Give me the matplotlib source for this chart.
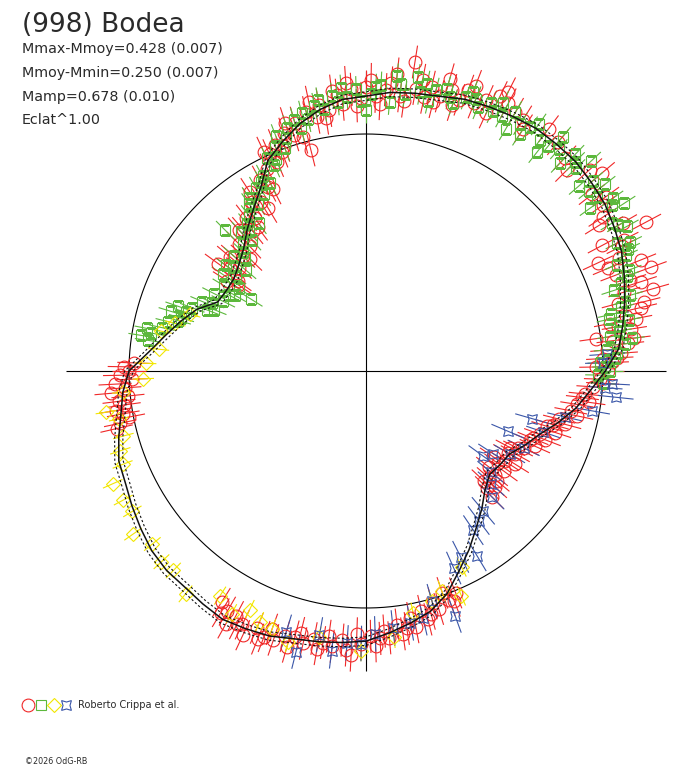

# Polar lightcurve of (998) Bodea: relative brightness vs rotational phase.
import numpy as np
import matplotlib.pyplot as plt
from matplotlib.lines import Line2D

# fitted model, phase in degrees, brightness relative to the mean (circle = 1)
model_phase = list(range(0, 360, 5))
model_r = [1.01, 1.07, 1.10, 1.13, 1.16, 1.19, 1.21, 1.23, 1.24, 1.25,
           1.25, 1.25, 1.24, 1.23, 1.22, 1.20, 1.19, 1.18, 1.16, 1.15,
           1.12, 1.08, 1.03, 0.98, 0.89, 0.83, 0.78, 0.73, 0.70, 0.68,
           0.68, 0.69, 0.76, 0.81, 0.86, 0.92, 1.00, 1.03, 1.05, 1.08,
           1.11, 1.12, 1.14, 1.16, 1.18, 1.19, 1.19, 1.20, 1.21, 1.20,
           1.19, 1.17, 1.16, 1.15, 1.14, 1.11, 1.08, 1.05, 1.00, 0.93,
           0.87, 0.81, 0.76, 0.71, 0.68, 0.69, 0.70, 0.74, 0.78, 0.84,
           0.90, 0.95]
model_err = 0.018

red_phase = [147, 145, 144, 143, 141, 139, 137, 135, 133, 131, 129, 128, 126, 124,
             122, 121, 119, 118, 116, 114, 113, 112, 110, 109, 107, 106, 104, 103,
             101, 100, 98, 96, 95, 93, 91, 90, 88, 86, 85, 83, 81, 80, 78, 77,
             75, 73, 71, 70, 68, 66, 63, 62, 60, 57, 53, 47, 42, 38, 35, 32,
             30, 28, 28, 26, 25, 24, 22, 21, 20, 19, 17, 16, 15, 14, 13, 12,
             11, 10, 9, 8, 7, 6, 5, 4, 3, 2, 1, 0,
             146, 140, 136, 132, 127, 123, 117, 115, 111, 108, 105, 102, 99, 97,
             94, 92, 89, 87, 84, 82, 79, 76, 74, 72, 69, 65, 64, 58, 50, 45,
             40, 36, 33, 27, 23, 18, 11, 7, 3,
             358, 356, 354, 352, 351, 349, 348, 346, 345, 343, 342, 340, 339, 337,
             336, 334, 333, 331, 330, 328, 327, 325, 324, 322, 321, 319, 318, 316,
             315, 357, 353, 344, 338, 332, 326, 320, 317,
             292, 290, 289, 287, 286, 284, 283, 281, 280, 278, 277, 275, 274, 272,
             271, 269, 268, 266, 265, 263, 262, 260, 259, 257, 256, 254, 253, 251,
             250, 248, 247, 245, 244, 242, 241, 239, 238,
             291, 285, 279, 273, 267, 261, 255, 249, 243, 240,
             178, 179, 180, 181, 182, 183, 184, 185, 186, 187, 188, 189, 190, 191,
             192, 193]
red_r = [0.70, 0.66, 0.77, 0.72, 0.69, 0.74, 0.71, 0.76, 0.72, 0.79, 0.76, 0.82, 0.80, 0.86,
         0.84, 0.80, 0.92, 0.88, 0.95, 1.00, 0.96, 1.03, 1.01, 1.06, 1.04, 1.09, 0.96, 1.12,
         1.09, 1.14, 1.11, 1.17, 1.13, 1.19, 1.15, 1.20, 1.16, 1.19, 1.22, 1.17, 1.32, 1.21,
         1.18, 1.23, 1.20, 1.24, 1.21, 1.26, 1.22, 1.25, 1.32, 1.28, 1.26, 1.22, 1.28, 1.23,
         1.27, 1.21, 1.22, 1.16, 1.25, 1.34, 1.13, 1.20, 1.08, 1.17, 1.25, 1.13, 1.28, 1.18,
         1.14, 1.26, 1.10, 1.21, 1.19, 1.12, 1.16, 1.08, 1.13, 0.98, 1.05, 1.11, 1.02, 1.08,
         1.00, 1.04, 0.97, 1.02,
         0.65, 0.75, 0.68, 0.80, 0.76, 0.90, 0.86, 1.02, 0.99, 1.10, 1.02, 1.16, 1.08, 1.19,
         1.22, 1.12, 1.23, 1.13, 1.26, 1.15, 1.25, 1.17, 1.28, 1.18, 1.29, 1.20, 1.29, 1.25,
         1.26, 1.20, 1.30, 1.25, 1.19, 1.22, 1.11, 1.22, 1.05, 1.14, 1.06,
         0.99, 0.96, 0.93, 0.95, 0.90, 0.88, 0.91, 0.84, 0.87, 0.80, 0.84, 0.78, 0.81, 0.75,
         0.78, 0.74, 0.72, 0.72, 0.69, 0.74, 0.70, 0.68, 0.72, 0.66, 0.70, 0.69, 0.73, 0.71,
         0.75, 1.00, 0.92, 0.82, 0.76, 0.69, 0.65, 0.72, 0.68,
         1.01, 1.03, 0.99, 1.05, 1.02, 1.08, 1.04, 1.10, 1.06, 1.12, 1.08, 1.13, 1.10, 1.16,
         1.12, 1.15, 1.11, 1.18, 1.14, 1.17, 1.13, 1.19, 1.15, 1.18, 1.14, 1.21, 1.17, 1.20,
         1.16, 1.22, 1.18, 1.23, 1.19, 1.17, 1.22, 1.19, 1.15,
         1.04, 1.06, 1.10, 1.13, 1.20, 1.16, 1.16, 1.20, 1.20, 1.17,
         0.98, 1.02, 1.00, 1.04, 0.99, 1.06, 1.02, 1.08, 1.01, 1.05, 1.03, 1.07, 1.04, 1.02,
         1.06, 1.08]
red_err = 0.07

green_phase = [172, 170, 169, 168, 166, 165, 163, 162, 160, 159, 158, 157, 156, 154,
               153, 151, 149, 148, 147, 146, 144, 142, 140, 139, 137, 135, 134, 132,
               131, 129, 127, 126, 124, 123, 121, 120, 118, 117, 115, 114, 112, 111,
               109, 108, 106, 104, 103, 101, 99, 97, 96, 94, 92, 90, 89, 87,
               85, 84, 82, 80, 79, 77, 76, 74, 72, 70, 69, 67, 65, 63,
               62, 60, 60, 58, 57, 55, 53, 52, 50, 49, 47, 46, 44, 43,
               41, 40, 38, 37, 36, 34, 33, 31, 29, 27, 26, 24, 23, 21,
               19, 18, 16, 14, 13, 12, 11, 9, 8, 7, 6, 5, 3, 2, 0, 359, 357,
               171, 164, 161, 150, 143, 136, 130, 125, 119, 113, 110, 105, 100, 95,
               91, 88, 83, 78, 73, 68, 64, 56, 51, 45, 39, 35, 30, 25,
               20, 15, 10, 4, 1]
green_r = [0.93, 0.92, 0.94, 0.88, 0.86, 0.82, 0.86, 0.80, 0.78, 0.72, 0.69, 0.75, 0.71, 0.67,
           0.72, 0.66, 0.70, 0.57, 0.64, 0.73, 0.68, 0.71, 0.66, 0.74, 0.70, 0.84, 0.75, 0.79,
           0.73, 0.80, 0.82, 0.77, 0.88, 0.84, 0.90, 0.86, 0.93, 0.89, 0.99, 0.95, 1.02, 1.06,
           1.04, 1.08, 1.10, 1.12, 1.09, 1.14, 1.12, 1.17, 1.14, 1.16, 1.19, 1.10, 1.17, 1.21,
           1.14, 1.25, 1.18, 1.26, 1.20, 1.17, 1.22, 1.24, 1.19, 1.23, 1.26, 1.21, 1.25, 1.27,
           1.22, 1.26, 1.18, 1.23, 1.19, 1.27, 1.22, 1.17, 1.29, 1.24, 1.20, 1.27, 1.23, 1.30,
           1.19, 1.25, 1.28, 1.22, 1.17, 1.25, 1.30, 1.21, 1.26, 1.19, 1.24, 1.20, 1.15, 1.19,
           1.14, 1.10, 1.16, 1.11, 1.06, 1.05, 1.13, 1.08, 1.04, 1.13, 1.10, 1.02, 1.05, 0.99,
           1.03, 0.98, 1.00,
           0.96, 0.81, 0.84, 0.64, 0.74, 0.72, 0.77, 0.86, 0.91, 0.97, 1.00, 1.06, 1.16, 1.20,
           1.14, 1.20, 1.22, 1.24, 1.21, 1.24, 1.22, 1.24, 1.22, 1.25, 1.21, 1.27, 1.23, 1.22,
           1.17, 1.13, 1.09, 1.06, 1.01]
green_err = 0.055

yellow_phase = [162, 166, 169, 174, 178, 182, 185, 189, 191, 195, 198, 201, 204, 208,
                211, 215, 219, 223, 226, 231, 237, 241, 244, 247, 250, 254, 260, 269,
                276, 281, 286, 289, 293, 296]
yellow_r = [0.78, 0.83, 0.88, 0.88, 0.93, 0.94, 1.03, 1.11, 1.06, 1.06, 1.09, 1.10, 1.17, 1.16,
            1.15, 1.20, 1.16, 1.18, 1.17, 1.21, 1.13, 1.17, 1.12, 1.15, 1.16, 1.19, 1.14, 1.18,
            1.13, 1.04, 1.01, 0.98, 1.03, 0.92]
yellow_err = 0.045

blue_phase = [4, 2, 357, 356, 354, 350, 347, 344, 341, 337, 334, 330, 327, 324,
              321, 318, 315, 310, 307, 304, 301, 297, 294, 290, 286, 283, 280, 276,
              272, 269, 266, 263, 260, 256, 253]
blue_r = [1.02, 1.00, 1.04, 1.01, 1.06, 0.97, 0.86, 0.73, 0.79, 0.65, 0.74, 0.70, 0.64, 0.61,
          0.68, 0.71, 0.75, 0.77, 0.79, 0.81, 0.91, 0.88, 0.91, 1.10, 1.01, 1.07, 1.08, 1.09,
          1.11, 1.15, 1.15, 1.19, 1.13, 1.22, 1.15]
blue_err = 0.075

title = "(998) Bodea"
info_lines = ["Mmax-Mmoy=0.428 (0.007)", "Mmoy-Mmin=0.250 (0.007)",
              "Mamp=0.678 (0.010)", "Eclat^1.00"]
credit = "Roberto Crippa et al."
copyright_txt = "\u00a92026 OdG-RB"

RED, GREEN, YELLOW, BLUE = "#f02828", "#5cb83c", "#f2e600", "#3a56a8"
star4 = (4, 1, 45)

fig = plt.figure(figsize=(6.88, 7.68), dpi=100)
# square polar axes centred on the reference cross; rmax 1.45 -> circle radius 237 px
ax = fig.add_axes([0.03249, 0.06947, 0.99898, 0.89492], projection="polar")
ax.set_rlim(0, 1.45)
ax.set_axis_off()

# cross and mean-brightness circle
ax.vlines(np.deg2rad([0, 90, 180, 270]), 0, 1.266, color="black", lw=0.8, zorder=1)
circ = np.linspace(0, 2 * np.pi, 400)
ax.plot(circ, np.ones_like(circ), color="black", lw=0.8, zorder=1)


def series(phase, r, err, color, marker, ms):
    th = np.deg2rad(phase)
    r = np.array(r)
    ax.vlines(th, r - err, r + err, color=color, lw=0.8, zorder=2)
    ax.plot(th, r, ls="none", marker=marker, ms=ms, mfc="none", mec=color,
            mew=0.8, zorder=3)


series(red_phase, red_r, red_err, RED, "o", 9.2)
series(green_phase, green_r, green_err, GREEN, "s", 7.0)
series(yellow_phase, yellow_r, yellow_err, YELLOW, "D", 7.2)
series(blue_phase, blue_r, blue_err, BLUE, star4, 10)

# model with its uncertainty band
mth = np.deg2rad(model_phase + [model_phase[0] + 360])
mr = np.array(model_r + [model_r[0]])
ax.plot(mth, mr, color="#111111", lw=1.1, zorder=5)
ax.plot(mth, mr + model_err, color="#111111", lw=0.8, ls=(0, (2, 2)), zorder=5)
ax.plot(mth, mr - model_err, color="#111111", lw=0.8, ls=(0, (2, 2)), zorder=5)

# texts
tc = "#2a2a2a"
fig.text(22 / 688, 1 - 32 / 768, title, fontsize=19, color=tc, va="baseline",
         family="DejaVu Sans")
for i, line in enumerate(info_lines):
    fig.text(22 / 688, 1 - (53.5 + 23.5 * i) / 768, line, fontsize=10.3, color=tc,
             va="baseline", family="DejaVu Sans")

# legend row
ly = 1 - 705 / 768
for x, col, mk, ms in [(28, RED, "o", 9.2), (41, GREEN, "s", 7.0),
                       (53.5, YELLOW, "D", 7.2), (66, BLUE, star4, 10)]:
    fig.add_artist(Line2D([x / 688], [ly], marker=mk, ms=ms, mfc="none", mec=col,
                          mew=0.8, ls="none", transform=fig.transFigure))
fig.text(78 / 688, ly, credit, fontsize=7, color=tc, va="center", family="DejaVu Sans")
fig.text(25 / 688, 1 - 762 / 768, copyright_txt, fontsize=5.8, color=tc, va="center",
         family="DejaVu Sans")

fig.savefig("out.png", dpi=100)
